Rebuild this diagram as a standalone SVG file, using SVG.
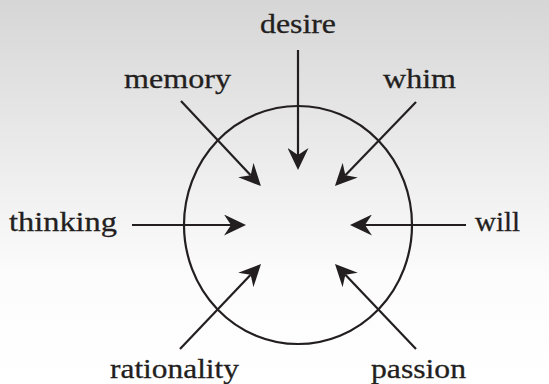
<svg xmlns="http://www.w3.org/2000/svg" width="549" height="384" viewBox="0 0 549 384">
<defs>
<linearGradient id="bg" x1="0" y1="0" x2="0" y2="1">
<stop offset="0" stop-color="#d6d6d6"/>
<stop offset="0.72" stop-color="#fcfcfc"/>
<stop offset="1" stop-color="#ffffff"/>
</linearGradient>
<marker id="ah" viewBox="0 0 22 21" refX="7" refY="10.5" markerWidth="22" markerHeight="21" markerUnits="userSpaceOnUse" orient="auto">
<path d="M0,0 L22,10.5 L0,21 L7,10.5 Z" fill="#231f20"/>
</marker>
<style>
.lbl{font-family:"Liberation Serif","Times New Roman",serif;font-size:28px;fill:#231f20;stroke:#231f20;stroke-width:0.3;text-anchor:middle}
.c{stroke:#231f20;stroke-width:2.2;fill:none;marker-end:url(#ah)}
</style>
</defs>
<rect x="0" y="0" width="549" height="384" fill="url(#bg)"/>
<g id="mind">
<ellipse cx="298" cy="225" rx="114" ry="119" fill="none" stroke="#231f20" stroke-width="2.2"/>
</g>
<g id="connectors">
<line class="c" x1="298" y1="50" x2="298" y2="155"/>
<line class="c" x1="132" y1="225" x2="231" y2="225"/>
<line class="c" x1="466" y1="225" x2="365" y2="225"/>
<line class="c" x1="181" y1="101" x2="250.65" y2="175.14"/>
<line class="c" x1="416" y1="102" x2="345.35" y2="175.14"/>
<line class="c" x1="180" y1="349" x2="250.65" y2="274.86"/>
<line class="c" x1="416" y1="349" x2="345.35" y2="274.86"/>
</g>
<g id="desire"><text class="lbl" x="298" y="33" textLength="76" lengthAdjust="spacingAndGlyphs">desire</text></g>
<g id="memory"><text class="lbl" x="177.5" y="88" textLength="107" lengthAdjust="spacingAndGlyphs">memory</text></g>
<g id="whim"><text class="lbl" x="419.5" y="88" textLength="73" lengthAdjust="spacingAndGlyphs">whim</text></g>
<g id="thinking"><text class="lbl" x="63" y="231" textLength="108" lengthAdjust="spacingAndGlyphs">thinking</text></g>
<g id="will"><text class="lbl" x="497.5" y="231" textLength="45" lengthAdjust="spacingAndGlyphs">will</text></g>
<g id="rationality"><text class="lbl" x="174.5" y="378" textLength="129" lengthAdjust="spacingAndGlyphs">rationality</text></g>
<g id="passion"><text class="lbl" x="418.5" y="378" textLength="95" lengthAdjust="spacingAndGlyphs">passion</text></g>
</svg>
